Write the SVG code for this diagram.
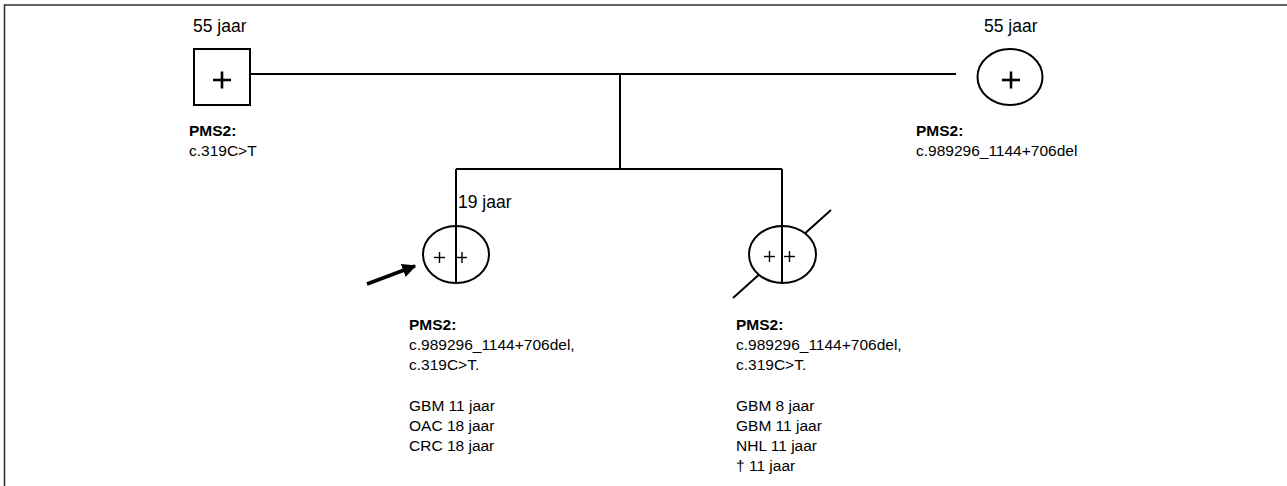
<svg xmlns="http://www.w3.org/2000/svg" width="1287" height="486" viewBox="0 0 1287 486">
<style>
.ln{stroke:#000;stroke-width:2;fill:none}
.sh{stroke:#000;stroke-width:2;fill:#fff}
.pl{stroke:#000;stroke-width:2.6}
.sp{stroke:#000;stroke-width:1.4}
.age{font-family:"Liberation Sans",Arial,sans-serif;font-size:17.5px;fill:#000}
.t{font-family:"Liberation Sans",Arial,sans-serif;font-size:15.5px;fill:#000}
.b{font-weight:bold}
</style>
<defs>
<marker id="ah" viewBox="0 0 10 10" refX="9" refY="5" markerWidth="4" markerHeight="4" orient="auto" markerUnits="strokeWidth">
<path d="M0,0 L10,5 L0,10 z" fill="#000"/>
</marker>
</defs>
<rect width="1287" height="486" fill="#fff"/>
<g id="frame">
<path d="M4.5,486 V5 H1287" stroke="#333" stroke-width="1.6" fill="none"/>
</g>
<g id="connectors">
<line class="ln" x1="250" y1="74" x2="956" y2="74"/>
<line class="ln" x1="620" y1="74" x2="620" y2="169"/>
<line class="ln" x1="456" y1="169" x2="782" y2="169"/>
<line class="ln" x1="456" y1="169" x2="456" y2="226"/>
<line class="ln" x1="782" y1="169" x2="782" y2="226"/>
<line x1="367" y1="284" x2="415" y2="266" stroke="#000" stroke-width="3.5" marker-end="url(#ah)"/>
</g>
<g id="father">
<rect class="sh" x="194" y="49" width="56" height="56"/>
<line class="pl" x1="213" y1="80" x2="231" y2="80"/>
<line class="pl" x1="222" y1="71.5" x2="222" y2="88.5"/>
<text class="age" x="193" y="32">55 jaar</text>
<text class="t b" x="189" y="136">PMS2:</text>
<text class="t" x="189" y="156">c.319C&gt;T</text>
</g>
<g id="mother">
<ellipse class="sh" cx="1010" cy="77" rx="32.5" ry="28"/>
<line class="pl" x1="1002" y1="80" x2="1020" y2="80"/>
<line class="pl" x1="1011" y1="71.5" x2="1011" y2="88.5"/>
<text class="age" x="984" y="32">55 jaar</text>
<text class="t b" x="916" y="136">PMS2:</text>
<text class="t" x="916" y="156">c.989296_1144+706del</text>
</g>
<g id="child1">
<ellipse class="sh" cx="456" cy="254.5" rx="33" ry="28.5"/>
<line class="ln" x1="456" y1="226" x2="456" y2="283"/>
<line class="sp" x1="434" y1="257.5" x2="445" y2="257.5"/>
<line class="sp" x1="439.5" y1="252" x2="439.5" y2="263"/>
<line class="sp" x1="457" y1="257.5" x2="467" y2="257.5"/>
<line class="sp" x1="462" y1="252" x2="462" y2="263"/>
<text class="age" x="458" y="208">19 jaar</text>
<text class="t b" x="409" y="330">PMS2:</text>
<text class="t" x="409" y="350">c.989296_1144+706del,</text>
<text class="t" x="409" y="370">c.319C&gt;T.</text>
<text class="t" x="409" y="411">GBM 11 jaar</text>
<text class="t" x="409" y="431">OAC 18 jaar</text>
<text class="t" x="409" y="451">CRC 18 jaar</text>
</g>
<g id="child2">
<line class="ln" x1="733" y1="298" x2="831" y2="210"/>
<ellipse class="sh" cx="782.5" cy="254.5" rx="33.5" ry="28.5"/>
<line class="ln" x1="782" y1="226" x2="782" y2="283"/>
<line class="sp" x1="764" y1="256.5" x2="775" y2="256.5"/>
<line class="sp" x1="769.5" y1="251" x2="769.5" y2="262"/>
<line class="sp" x1="784" y1="256.5" x2="795" y2="256.5"/>
<line class="sp" x1="789.5" y1="251" x2="789.5" y2="262"/>
<text class="t b" x="736" y="330">PMS2:</text>
<text class="t" x="736" y="350">c.989296_1144+706del,</text>
<text class="t" x="736" y="370">c.319C&gt;T.</text>
<text class="t" x="736" y="411">GBM 8 jaar</text>
<text class="t" x="736" y="431">GBM 11 jaar</text>
<text class="t" x="736" y="451">NHL 11 jaar</text>
<text class="t" x="736" y="471">† 11 jaar</text>
</g>
</svg>
